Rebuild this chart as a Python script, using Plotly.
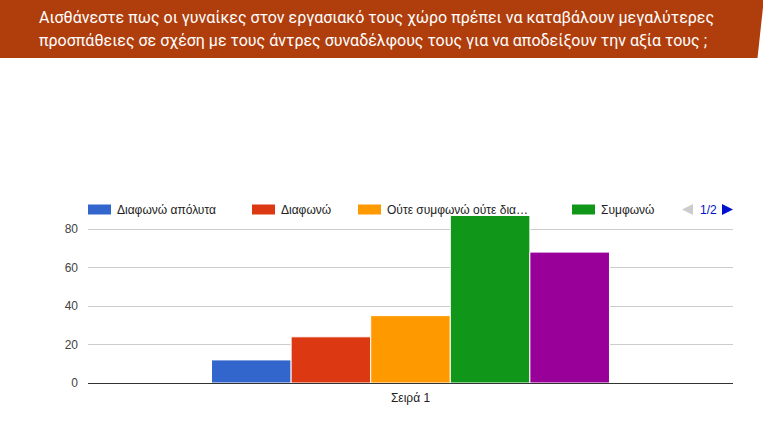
import plotly.graph_objects as go

# ------------------------------------------------------------
# data
# ------------------------------------------------------------
series_names = [
    "Διαφωνώ απόλυτα",
    "Διαφωνώ",
    "Ούτε συμφωνώ ούτε διαφωνώ",
    "Συμφωνώ",
    "Συμφωνώ απόλυτα",
]
legend_labels = ["Διαφωνώ απόλυτα", "Διαφωνώ", "Ούτε συμφωνώ ούτε δια…", "Συμφωνώ"]
values = [12, 24, 35, 87, 68]
colors = ["#3366cc", "#dc3912", "#ff9900", "#109618", "#990099"]
category = "Σειρά 1"
y_ticks = [0, 20, 40, 60, 80]
title_lines = [
    "Αισθάνεστε πως οι γυναίκες στον εργασιακό τους χώρο πρέπει να καταβάλουν μεγαλύτερες",
    "προσπάθειες σε σχέση με τους άντρες συναδέλφους τους για να αποδείξουν την αξία τους ;",
]
pager_text = "1/2"

# ------------------------------------------------------------
# page geometry (pixels) -> paper coords
# ------------------------------------------------------------
W, H = 763, 435
L, R, T, B = 88, 30, 213, 52
PW, PH = W - L - R, H - T - B


def px(x):
    return (x - L) / PW


def py(y):
    return (H - B - y) / PH


fig = go.Figure()

for name, v, c in zip(series_names, values, colors):
    fig.add_trace(
        go.Bar(
            x=[category],
            y=[v],
            name=name,
            marker=dict(color=c, line=dict(color="white", width=1)),
            showlegend=False,
            hovertemplate=name + ": %{y}<extra></extra>",
        )
    )

shapes = []
annotations = []

# title banner
shapes.append(
    dict(
        type="path",
        xref="paper",
        yref="paper",
        path=f"M {px(-2)},{py(-2)} L {px(764)},{py(-2)} L {px(757.5)},{py(58)} L {px(-2)},{py(58)} Z",
        fillcolor="#b03e0c",
        line=dict(width=0),
        layer="below",
    )
)
for line, yy in zip(title_lines, [17, 40]):
    annotations.append(
        dict(
            text=line,
            xref="paper",
            yref="paper",
            x=px(37),
            y=py(yy),
            xanchor="left",
            yanchor="middle",
            showarrow=False,
            font=dict(family="Roboto", size=16, color="white"),
        )
    )

# legend (first page)
legend_x = [88, 252, 358, 572]
for lab, c, lx in zip(legend_labels, colors, legend_x):
    shapes.append(
        dict(
            type="rect",
            xref="paper",
            yref="paper",
            x0=px(lx),
            x1=px(lx + 23),
            y0=py(214.5),
            y1=py(204.5),
            fillcolor=c,
            line=dict(width=0),
        )
    )
    annotations.append(
        dict(
            text=lab,
            xref="paper",
            yref="paper",
            x=px(lx + 27),
            y=py(209.5),
            xanchor="left",
            yanchor="middle",
            showarrow=False,
            font=dict(family="Arial, Liberation Sans", size=12, color="#222222"),
        )
    )

# pager
shapes.append(
    dict(
        type="path",
        xref="paper",
        yref="paper",
        path=f"M {px(682)},{py(209.5)} L {px(693)},{py(204)} L {px(693)},{py(215)} Z",
        fillcolor="#cccccc",
        line=dict(width=0),
    )
)
shapes.append(
    dict(
        type="path",
        xref="paper",
        yref="paper",
        path=f"M {px(733)},{py(209.5)} L {px(722)},{py(204)} L {px(722)},{py(215)} Z",
        fillcolor="#0011cc",
        line=dict(width=0),
    )
)
annotations.append(
    dict(
        text=pager_text,
        xref="paper",
        yref="paper",
        x=px(708),
        y=py(209.5),
        xanchor="center",
        yanchor="middle",
        showarrow=False,
        font=dict(family="Arial, Liberation Sans", size=12, color="#0011cc"),
    )
)

fig.update_layout(
    width=W,
    height=H,
    margin=dict(l=L, r=R, t=T, b=B, pad=0),
    paper_bgcolor="white",
    plot_bgcolor="white",
    barmode="group",
    bargap=0.383,
    bargroupgap=0,
    showlegend=False,
    font=dict(family="Arial, Liberation Sans", size=12, color="#444444"),
    shapes=shapes,
    annotations=annotations,
    xaxis=dict(
        showgrid=False,
        showline=True,
        linecolor="#333333",
        linewidth=1,
        ticks="",
        tickfont=dict(size=12, color="#222222"),
        ticklabelstandoff=4,
        fixedrange=True,
    ),
    yaxis=dict(
        range=[0, PH / 1.925],
        tickvals=y_ticks,
        showgrid=True,
        gridcolor="#cccccc",
        gridwidth=1,
        zeroline=False,
        showline=False,
        ticks="",
        tickfont=dict(size=12, color="#444444"),
        ticklabelstandoff=9,
        fixedrange=True,
    ),
)

# the page's default body margin would push the figure off by 8px
fig.write_html(
    "out.html",
    config={"displayModeBar": False},
    post_script="document.body.style.margin='0';",
)
